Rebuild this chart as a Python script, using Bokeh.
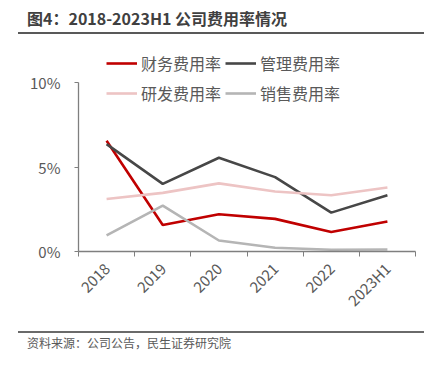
import math
from bokeh.plotting import figure
from bokeh.layouts import column
from bokeh.models import FixedTicker, Legend, LegendItem, Range1d, Div
from bokeh.embed import file_html
from bokeh.resources import INLINE

categories = ["2018", "2019", "2020", "2021", "2022", "2023H1"]
finance_rate = [6.55, 1.57, 2.2, 1.93, 1.15, 1.77]
admin_rate = [6.35, 4.0, 5.55, 4.4, 2.3, 3.33]
rd_rate = [3.11, 3.47, 4.03, 3.55, 3.33, 3.79]
sales_rate = [0.95, 2.72, 0.65, 0.22, 0.1, 0.12]
y_ticks = [0, 5, 10]
y_tick_labels = ["0%", "5%", "10%"]
title_text = "图4：2018-2023H1 公司费用率情况"
source_text = "资料来源：公司公告，民生证券研究院"

FONT = "Noto Sans CJK SC"
TXT = "#595959"
W = 438

# header
head = Div(width=W, height=40, margin=0, text=(
    f'<div style="margin:0;padding:7px 0 0 0;height:40px;box-sizing:border-box">'
    f'<div style="margin:0 0 0 27px;font-family:\'{FONT}\';font-size:16px;font-weight:bold;'
    f'line-height:22px;height:22px;color:#404040;white-space:nowrap">{title_text}</div>'
    f'<div style="margin:3px 0 0 18px;width:406px;height:0;border-top:2px solid #595959"></div>'
    f'</div>'))

# main chart
frame_h = 211
axis_h = 169  # pixels from 0% to 10%
xs = [i + 0.5 for i in range(len(categories))]
p_main = figure(frame_width=337, frame_height=frame_h, output_backend="svg", toolbar_location=None,
                x_range=Range1d(0, len(categories)), y_range=Range1d(0, y_ticks[-1] * frame_h / axis_h),
                min_border_left=78, min_border_right=23, min_border_top=0, min_border_bottom=71)
p_main.outline_line_color = None
p_main.xgrid.visible = False
p_main.ygrid.visible = False

r1 = p_main.line(xs, finance_rate, line_color="#C00000", line_width=2.6)
r2 = p_main.line(xs, admin_rate, line_color="#474747", line_width=2.6)
r3 = p_main.line(xs, rd_rate, line_color="#EDC4C4", line_width=2.6)
r4 = p_main.line(xs, sales_rate, line_color="#B5B5B5", line_width=2.6)

xa = p_main.xaxis[0]
xa.ticker = FixedTicker(ticks=xs, minor_ticks=list(range(len(categories) + 1)))
xa.major_label_overrides = {x: c for x, c in zip(xs, categories)}
xa.major_tick_line_color = None
xa.minor_tick_out = 5
xa.minor_tick_in = 0
xa.minor_tick_line_color = "#7F7F7F"
xa.axis_line_color = "#7F7F7F"
xa.axis_line_width = 1.3
xa.major_label_orientation = math.pi / 4
xa.major_label_text_font = FONT
xa.major_label_text_font_size = "15px"
xa.major_label_text_color = TXT
xa.major_label_standoff = 8

ya = p_main.yaxis[0]
ya.bounds = (y_ticks[0], y_ticks[-1])
ya.ticker = FixedTicker(ticks=y_ticks, minor_ticks=[])
ya.major_label_overrides = {t: l for t, l in zip(y_ticks, y_tick_labels)}
ya.major_tick_out = 4
ya.major_tick_in = 0
ya.minor_tick_line_color = None
ya.major_tick_line_color = "#7F7F7F"
ya.axis_line_color = "#7F7F7F"
ya.axis_line_width = 1.3
ya.major_label_text_font = FONT
ya.major_label_text_font_size = "15px"
ya.major_label_text_color = TXT
ya.major_label_standoff = 14

legend = Legend(items=[
    LegendItem(label="财务费用率", renderers=[r1]),
    LegendItem(label="研发费用率", renderers=[r3]),
    LegendItem(label="管理费用率", renderers=[r2]),
    LegendItem(label="销售费用率", renderers=[r4]),
], ncols=2, location=(28, 143), glyph_width=31, glyph_height=30, label_height=30,
    label_width=84, label_standoff=4, spacing=0, padding=0, margin=0,
    border_line_color=None, background_fill_alpha=0,
    label_text_font=FONT, label_text_font_size="16px", label_text_color=TXT)
p_main.add_layout(legend, "center")

# footer
foot = Div(width=W, height=48, margin=0, text=(
    f'<div style="margin:0;padding:9px 0 0 0;height:48px;box-sizing:border-box">'
    f'<div style="margin:0 0 0 18px;width:406px;height:0;border-top:2px solid #6A6A6A"></div>'
    f'<div style="margin:2px 0 0 27px;font-family:\'{FONT}\';font-size:12px;'
    f'line-height:16px;color:{TXT};white-space:nowrap">{source_text}</div>'
    f'</div>'))

p = column(head, p_main, foot, spacing=0)
open("out.html", "w").write(file_html(p, INLINE))
